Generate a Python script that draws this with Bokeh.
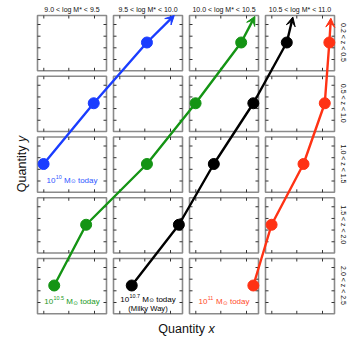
import math
from bokeh.plotting import figure
from bokeh.models import Range1d, Arrow, VeeHead
from bokeh.embed import file_html
from bokeh.resources import INLINE
from bokeh.core.properties import value

# ---------------- data ----------------
mass_bin_labels = ["9.0 < log M* < 9.5", "9.5 < log M* < 10.0",
                   "10.0 < log M* < 10.5", "10.5 < log M* < 11.0"]
mass_bin_lo = [9.0, 9.5, 10.0, 10.5]
z_bin_labels = ["0.2 < z < 0.5", "0.5 < z < 1.0", "1.0 < z < 1.5",
                "1.5 < z < 2.0", "2.0 < z < 2.5"]

# progenitor tracks: log M* in each redshift bin (lowest z first)
blue_logm = [9.72, 9.37, 9.04]
green_logm = [10.34, 10.04, 9.72, 9.32, 9.11]
black_logm = [10.64, 10.42, 10.16, 9.93, 9.62]
red_logm = [10.92, 10.89, 10.75, 10.54, 10.42]
# arrow tips (towards today)
arrow_tip_logm = [9.90, 10.43, 10.68, 10.93]
arrow_tip_row = [4.445, 4.43, 4.42, 4.40]
today_mass_exp = ["10", "10.5", "10.7", "11"]
track_colors = ["#1a3dff", "#149414", "#000000", "#ff3214"]
label_colors = ["#2f55ff", "#1a9a1a", "#000000", "#ff4a2a"]
tracks = [blue_logm, green_logm, black_logm, red_logm]

# ---------------- layout (canvas pixels == page pixels) ----------------
W, H = 350, 339
PXD = 152.0     # pixels per dex
PXR = 60.75     # pixels per z-row
X0PX = 37.0     # pixel of log M* = 9.0
Y0PX = 285.0    # pixel of the centre of the bottom row
x_lo = 9.0 - X0PX / PXD
y_lo = -(H - Y0PX) / PXR
NZ = len(z_bin_labels)

def dx(px):
    return px / PXD

def dy(px):
    return px / PXR

def xpx(px):
    return x_lo + px / PXD

def ypx(py):
    return y_lo + (H - py) / PXR

p = figure(width=W, height=H, x_range=Range1d(x_lo, x_lo + W / PXD),
           y_range=Range1d(y_lo, y_lo + H / PXR), output_backend="svg",
           toolbar_location=None, x_axis_location=None, y_axis_location=None,
           min_border=0, outline_line_color=None, background_fill_color="white",
           border_fill_color="white")
p.grid.visible = False

# panels
L, R, B, T = [], [], [], []
for m in mass_bin_lo:
    for i in range(NZ):
        h = NZ - 1 - i
        L.append(m)
        R.append(m + dx(69))
        T.append(h + dy(27))
        B.append(h - dy(28.3))
p.quad(left=L, right=R, bottom=B, top=T, fill_color=None,
       line_color="#8a8a8a", line_width=1.6)

# inward ticks
x0s, y0s, x1s, y1s = [], [], [], []
for l, r, b, t in zip(L, R, B, T):
    for s in [6.3, 31.3, 57.0]:
        xx = l + dx(s)
        x0s += [xx, xx]; x1s += [xx, xx]
        y0s += [b, t]; y1s += [b + dy(3), t - dy(3)]
    for s in [9.0, 20.7, 32.3, 44.0]:
        yy = t - dy(s)
        y0s += [yy, yy]; y1s += [yy, yy]
        x0s += [l, r]; x1s += [l + dx(3), r - dx(3)]
p.segment(x0=x0s, y0=y0s, x1=x1s, y1=y1s, line_color="#333333", line_width=1)

# tracks
for logm, col, tipx, tipy in zip(tracks, track_colors, arrow_tip_logm, arrow_tip_row):
    rows = [NZ - 1 - i for i in range(len(logm))]
    p.line(logm, rows, line_color=col, line_width=2.4)
    p.scatter(logm, rows, marker="circle", size=11, fill_color=col, line_color=col)
    p.add_layout(Arrow(end=VeeHead(size=9, fill_color=col, line_color=col, line_width=1),
                       x_start=logm[0], y_start=rows[0], x_end=tipx, y_end=tipy,
                       line_color=col, line_width=2.4))

FONT = "Liberation Sans"
CW = {'.': .278, ' ': .278, 'M': .833, 't': .278, 'o': .556, 'd': .556,
      'a': .556, 'y': .5, 'x': .5, 'Q': .778, 'u': .556, 'n': .556, 'i': .222}

def tw(s, fs):
    return sum(CW.get(c, .556) for c in s) * fs

def txt(x, y, s, fs, color, align="left", baseline="alphabetic", angle=0.0,
        style="normal", font=FONT):
    p.text(x=[x], y=[y], text=[s], text_font=value(font), text_font_size=f"{fs}px",
           text_color=color, text_align=align, text_baseline=baseline, angle=angle,
           text_font_style=style)

# column titles
for lab, m in zip(mass_bin_labels, mass_bin_lo):
    txt(m + dx(34.5), ypx(9.3), lab, 7, "#111111", align="center")

# redshift labels (right side)
for i, lab in enumerate(z_bin_labels):
    h = NZ - 1 - i
    txt(xpx(343.3), h, lab, 7, "#111111", align="center", baseline="middle",
        angle=-math.pi / 2)

# "today" mass labels
def mass_label(logm, col, exp, extra=None):
    fs = 8.0
    last = logm[-1]
    c = int((last - 9.0) // 0.5)
    xc = mass_bin_lo[c] + dx(34.5)
    h = NZ - len(logm)
    base = h - dy(13.3 + 0.36 * fs) if extra is None else h - dy(10.8 + 0.36 * fs)
    sfs, ofs = 5.4, 5.6
    sp = 0.278 * fs
    # (text, font size, raise px, font, gap before in px)
    pieces = [("10", fs, 0.0, FONT, 0.0), (exp, sfs, 3.2, FONT, 0.3),
              ("M", fs, 0.0, FONT, sp), ("\u2299", ofs, -1.2, "DejaVu Sans", 0.4),
              ("today", fs, 0.0, FONT, sp)]
    widths = [g + (tw(s, f) if fnt == FONT else 0.838 * f) for s, f, _, fnt, g in pieces]
    start = -sum(widths) / 2
    for (s, f, up, fnt, g), w in zip(pieces, widths):
        txt(xc + dx(start + g), base + dy(up), s, f, col, font=fnt)
        start += w
    if extra:
        txt(xc, base - dy(9.5), extra, 7.6, col, align="center")

for logm, col, exp in zip(tracks, label_colors, today_mass_exp):
    mass_label(logm, col, exp, "(Milky Way)" if exp == "10.7" else None)

# axis titles
afs = 12.5
xq = xpx(186)
yb = ypx(328.8)
wq = tw("Quantity ", afs)
wx = tw("x", afs)
txt(xq - dx((wq + wx) / 2), yb, "Quantity", afs, "#111111")
txt(xq - dx((wq + wx) / 2) + dx(wq), yb, "x", afs, "#111111", style="italic")

xy = xpx(21.7)
wy = tw("y", afs)
ystart = 2 - dy((wq + wy) / 2)
txt(xy, ystart, "Quantity", afs, "#111111", baseline="middle", angle=math.pi / 2)
txt(xy, ystart + dy(wq), "y", afs, "#111111", baseline="middle", angle=math.pi / 2,
    style="italic")

open("out.html", "w").write(file_html(p, INLINE))
